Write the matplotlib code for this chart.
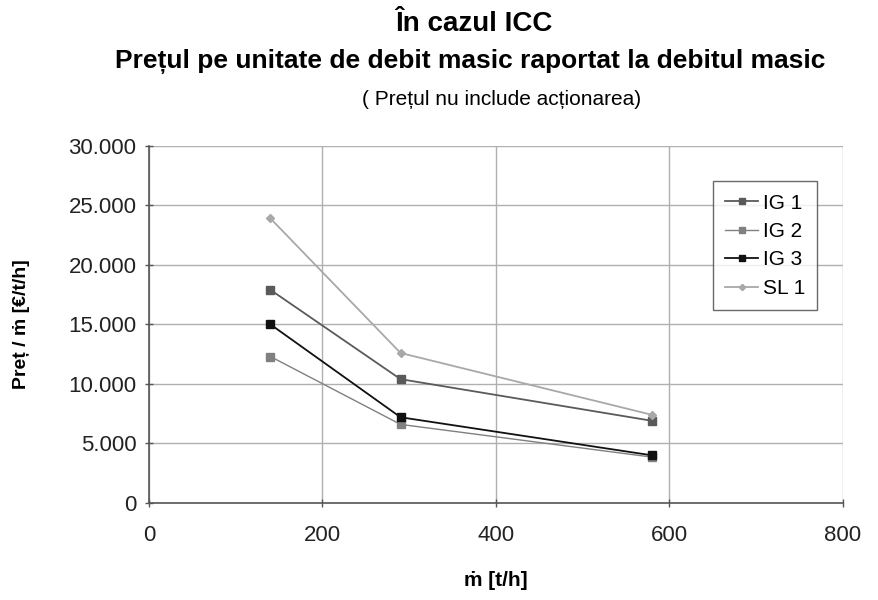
import matplotlib
matplotlib.use("Agg")
import matplotlib.pyplot as plt
from matplotlib.ticker import FuncFormatter

plt.rcParams['font.family'] = ['Liberation Sans', 'DejaVu Sans']

mass_flow = [140, 290, 580]
ig1 = [17900, 10400, 6900]
ig2 = [12300, 6600, 3850]
ig3 = [15000, 7200, 4000]
sl1 = [23900, 12600, 7400]
series_names = ["IG 1", "IG 2", "IG 3", "SL 1"]

fig = plt.figure(figsize=(8.79, 6.0), dpi=100)
ax = fig.add_axes([0.1695, 0.1617, 0.7895, 0.5953])

ax.plot(mass_flow, ig1, color="#5a5a5a", marker="s", markersize=6, lw=1.3, label=series_names[0])
ax.plot(mass_flow, ig2, color="#808080", marker="s", markersize=6, lw=1.0, label=series_names[1])
ax.plot(mass_flow, ig3, color="#111111", marker="s", markersize=6, lw=1.3, label=series_names[2])
ax.plot(mass_flow, sl1, color="#a8a8a8", marker="D", markersize=4, lw=1.3, label=series_names[3])

ax.set_xlim(0, 800)
ax.set_ylim(0, 30000)
ax.set_xticks([0, 200, 400, 600, 800])
ax.set_yticks([0, 5000, 10000, 15000, 20000, 25000, 30000])
ax.yaxis.set_major_formatter(FuncFormatter(lambda v, p: f"{int(v):,}".replace(",", ".")))
ax.grid(True, color="#b0b0b0", lw=1.0)
ax.set_axisbelow(True)
for s in ["top", "right"]:
    ax.spines[s].set_visible(False)
for s in ["left", "bottom"]:
    ax.spines[s].set_color("#555555")
    ax.spines[s].set_linewidth(1.2)
ax.tick_params(axis="both", direction="inout", length=6, width=1, color="#555555",
               labelsize=16, labelcolor="#222222")
ax.tick_params(axis="x", pad=13)
ax.tick_params(axis="y", pad=6)

ax.set_xlabel("ṁ [t/h]", fontsize=15, fontweight="bold")
ax.set_ylabel("Preț / ṁ [€/t/h]", fontsize=14, fontweight="bold")
ax.xaxis.set_label_coords(0.5, -0.19)
ax.yaxis.set_label_coords(-0.171, 0.5)

leg = ax.legend(loc="upper right", bbox_to_anchor=(0.978, 0.93), frameon=True, fancybox=False,
                edgecolor="#444444", fontsize=15, handlelength=1.6, labelspacing=0.45,
                borderpad=0.6, handletextpad=0.2, markerscale=0.8)
leg.get_frame().set_linewidth(1.0)

fig.text(0.539, 0.96, "În cazul ICC", ha="center", va="center", fontsize=20, fontweight="bold")
fig.text(0.535, 0.897, "Prețul pe unitate de debit masic raportat la debitul masic",
         ha="center", va="center", fontsize=19, fontweight="bold")
fig.text(0.571, 0.834, "( Prețul nu include acționarea)", ha="center", va="center", fontsize=15)

fig.savefig("out.png", dpi=100)
